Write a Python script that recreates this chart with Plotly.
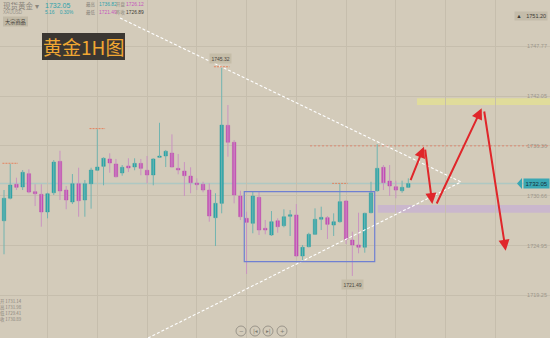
import plotly.graph_objects as go

# ---------------- data ----------------
opens = [1727.80, 1730.37, 1731.97, 1731.66, 1733.18, 1731.12, 1730.82, 1728.80, 1731.00, 1734.59,
         1731.31, 1729.94, 1732.03, 1730.17, 1732.03, 1733.57, 1734.02, 1734.86, 1734.29, 1733.26,
         1734.06, 1733.94, 1734.36, 1733.57, 1733.03, 1735.05, 1735.20, 1735.54, 1733.79, 1733.48,
         1732.91, 1732.11, 1731.97, 1731.31, 1728.15, 1729.79, 1738.71, 1736.77, 1730.63, 1728.08,
         1727.51, 1730.48, 1726.94, 1726.17, 1727.80, 1727.23, 1728.31, 1728.46, 1723.77, 1724.83,
         1726.25, 1727.97, 1728.15, 1727.31, 1727.69, 1730.06, 1725.60, 1725.03, 1724.77, 1728.72,
         1731.23, 1733.91, 1732.34, 1731.69, 1731.23, 1731.62]
highs = [1731.31, 1734.29, 1732.72, 1733.60, 1733.68, 1731.98, 1731.97, 1731.00, 1734.74, 1735.80,
         1731.77, 1733.14, 1733.86, 1732.46, 1733.86, 1738.25, 1735.05, 1735.51, 1734.86, 1734.17,
         1734.94, 1734.94, 1734.86, 1735.20, 1734.94, 1739.00, 1735.89, 1737.68, 1735.43, 1734.51,
         1733.91, 1732.65, 1732.26, 1732.08, 1730.94, 1745.32, 1741.03, 1737.03, 1731.23, 1728.83,
         1731.12, 1731.12, 1727.89, 1728.91, 1728.08, 1729.11, 1729.03, 1729.71, 1725.03, 1726.43,
         1729.22, 1729.41, 1728.34, 1728.65, 1731.99, 1730.17, 1726.55, 1728.72, 1728.72, 1732.26,
         1736.54, 1734.17, 1734.17, 1732.38, 1732.38, 1732.65]
lows = [1723.97, 1730.25, 1731.31, 1731.31, 1730.94, 1729.48, 1727.12, 1728.08, 1730.74, 1730.17,
        1729.11, 1729.71, 1728.26, 1728.26, 1729.18, 1733.50, 1731.85, 1733.29, 1732.75, 1732.95,
        1733.37, 1733.57, 1733.00, 1732.08, 1731.85, 1735.00, 1733.94, 1733.90, 1733.11, 1730.63,
        1730.94, 1731.31, 1731.05, 1727.69, 1724.91, 1728.65, 1735.12, 1729.79, 1727.88, 1721.72,
        1726.37, 1726.17, 1726.25, 1726.06, 1726.43, 1727.05, 1726.06, 1723.69, 1723.23, 1724.77,
        1726.17, 1726.74, 1725.72, 1726.06, 1727.58, 1725.14, 1721.49, 1724.08, 1724.15, 1728.65,
        1731.12, 1731.31, 1730.63, 1730.37, 1731.00, 1731.55]
closes = [1730.37, 1731.89, 1731.62, 1733.34, 1731.08, 1730.89, 1728.80, 1730.89, 1734.51, 1731.20,
          1730.17, 1732.03, 1730.09, 1732.03, 1733.60, 1733.94, 1734.94, 1734.40, 1732.83, 1733.91,
          1733.83, 1734.36, 1733.79, 1733.03, 1734.86, 1735.20, 1735.74, 1733.94, 1733.60, 1732.95,
          1732.15, 1731.92, 1731.31, 1728.34, 1729.79, 1738.74, 1736.77, 1730.74, 1728.26, 1727.62,
          1730.63, 1726.74, 1726.74, 1727.69, 1727.12, 1728.26, 1728.49, 1723.77, 1724.77, 1726.25,
          1727.97, 1728.19, 1727.39, 1727.69, 1729.98, 1725.68, 1725.03, 1724.77, 1728.65, 1731.00,
          1733.79, 1732.15, 1731.77, 1731.31, 1731.62, 1732.05]

axis_ticks = [1747.77, 1742.05, 1736.36, 1730.66, 1724.95, 1719.25]
axis_labels = ["1747.77", "1742.05", "1736.36", "1730.66", "1724.95", "1719.25"]
grid_x = [7, 15, 23, 31, 39, 47, 55, 63, 71, 79]

last_price = 1732.05
top_label = 1751.20
high_mark_idx = [1, 15, 35, 54]          # candles with dashed high markers
resistance = 1736.36
resistance_start = 49.2

# triangle (index, price)
tri_upper_x = [18.65, 73.47]
tri_upper_y = [1750.97, 1732.23]
tri_lower_x = [23.15, 73.47]
tri_lower_y = [1714.40, 1732.23]

# consolidation box
box_x = [38.63, 59.6]
box_y = [1723.12, 1731.12]

# zones
yellow_zone = [66.4, 1741.03, 1741.79]
purple_zone = [60.1, 1728.72, 1729.60]

# projected path arrows: (start_x, start_y, end_x, end_y)
arrows = [
    (65.27, 1732.26, 67.52, 1736.26),
    (67.68, 1736.11, 68.86, 1729.71),
    (69.45, 1729.60, 76.80, 1740.65),
    (77.17, 1740.46, 80.66, 1724.38),
]

header_vals = {"price": "1732.05", "chg": "5.16", "pct": "0.30%", "high": "1736.82",
               "open": "1726.12", "low": "1721.49", "prev": "1726.89"}
ohlc_legend = ["1731.14", "1731.98", "1729.41", "1730.89"]
ohlc_prefix = ["开", "高", "低", "收"]

# ---------------- styling ----------------
W, H = 550, 338
BG = "#d3cbba"
TEAL = "#2ea7ab"
TEAL_W = "#72b4b0"
MAG = "#c64fb8"
MAG_W = "#c993c1"
CJK = "Noto Sans CJK SC"
NUM = "Liberation Sans Narrow, Liberation Sans"

def px(x):
    return x / W

def py(y):
    return 1 - y / H

fig = go.Figure()

n = len(opens)
idx = list(range(n))
up = [closes[i] >= opens[i] for i in idx]

shapes = []
shapes.append(dict(type="rect", xref="x", yref="y", x0=yellow_zone[0], x1=90,
                   y0=yellow_zone[1], y1=yellow_zone[2], fillcolor="rgba(228,224,148,0.8)",
                   line=dict(width=0), layer="below"))
shapes.append(dict(type="rect", xref="x", yref="y", x0=purple_zone[0], x1=90,
                   y0=purple_zone[1], y1=purple_zone[2], fillcolor="rgba(200,180,208,0.85)",
                   line=dict(width=0), layer="below"))
shapes.append(dict(type="line", xref="x", yref="y", x0=-1, x1=90, y0=last_price, y1=last_price,
                   line=dict(color="rgba(170,200,196,0.9)", width=1.5), layer="below"))

# wicks
for flag, col in [(True, TEAL_W), (False, MAG_W)]:
    wx, wy = [], []
    for i in idx:
        if up[i] == flag:
            wx += [i, i, None]
            wy += [lows[i], highs[i], None]
    fig.add_trace(go.Scatter(x=wx, y=wy, mode="lines", line=dict(color=col, width=1),
                             hoverinfo="skip", showlegend=False))

# bodies
for flag, col, edge in [(True, TEAL, "#26979b"), (False, MAG, "#b545a8")]:
    bx, bb, bh = [], [], []
    for i in idx:
        if up[i] == flag:
            lo = min(opens[i], closes[i])
            hgt = max(abs(closes[i] - opens[i]), 0.15)
            bx.append(i)
            bb.append(lo)
            bh.append(hgt)
    fig.add_trace(go.Bar(x=bx, y=bh, base=bb, width=0.56,
                         marker=dict(color=col, line=dict(color=edge, width=0.4)),
                         hoverinfo="skip", showlegend=False))

for i in high_mark_idx:
    shapes.append(dict(type="line", xref="x", yref="y", x0=i - 1.25, x1=i + 1.25,
                       y0=highs[i] + 0.08, y1=highs[i] + 0.08,
                       line=dict(color="#e4825e", width=1, dash="2px,1px")))

shapes.append(dict(type="line", xref="x", yref="y", x0=resistance_start, x1=90,
                   y0=resistance, y1=resistance, line=dict(color="#e07a62", width=0.8, dash="2px,2px")))

for tx, ty in [(tri_upper_x, tri_upper_y), (tri_lower_x, tri_lower_y)]:
    fig.add_trace(go.Scatter(x=tx, y=ty, mode="lines",
                             line=dict(color="white", width=1.1, dash="3px,2px"),
                             hoverinfo="skip", showlegend=False))

shapes.append(dict(type="rect", xref="x", yref="y", x0=box_x[0], x1=box_x[1], y0=box_y[0], y1=box_y[1],
                   line=dict(color="#6f80d2", width=1.2), fillcolor="rgba(0,0,0,0)"))

shapes.append(dict(type="rect", xref="paper", yref="paper", x0=px(42), x1=px(125), y0=py(60), y1=py(33),
                   fillcolor="#3b3732", line=dict(width=0)))
shapes.append(dict(type="rect", xref="paper", yref="paper", x0=px(3), x1=px(28), y0=py(26.5), y1=py(16.5),
                   fillcolor="#c1b9a6", line=dict(width=0)))
for cx in [241, 255, 268, 282]:
    shapes.append(dict(type="circle", xref="paper", yref="paper", x0=px(cx - 5), x1=px(cx + 5),
                       y0=py(336), y1=py(326), line=dict(color="#8c877d", width=0.8)))
shapes.append(dict(type="path", xref="paper", yref="paper",
                   path=f"M {px(517)} {py(183.5)} L {px(522)} {py(178)} L {px(522)} {py(189)} Z",
                   fillcolor="#3aa7b3", line=dict(width=0)))

ann = []
for sx, sy, ex, ey in arrows:
    ann.append(dict(x=ex, y=ey, ax=sx, ay=sy, xref="x", yref="y", axref="x", ayref="y",
                    text="", showarrow=True, arrowhead=2, arrowsize=1.1, arrowwidth=2,
                    arrowcolor="#e0262a", standoff=0, startstandoff=0))

def text(x, y, s, size, color, anchor="left", font=CJK, **kw):
    d = dict(x=px(x), y=py(y), xref="paper", yref="paper", text=s, showarrow=False,
             xanchor=anchor, yanchor="middle", font=dict(size=size, color=color, family=font))
    d.update(kw)
    ann.append(d)

text(1, 6, "现货黄金 ▾", 7.5, "#8a857c")
text(1, 12.8, "XAUUSD", 4.6, "#9a958c", font=NUM)
text(43, 6, header_vals["price"], 7, "#2fa2ac", font="Liberation Sans")
text(43, 12.8, header_vals["chg"] + "    " + header_vals["pct"], 4.8, "#2fa2ac", font=NUM)
text(83.5, 5, "最高", 4.4, "#8a857c")
text(97, 5, header_vals["high"], 4.9, "#2fa2ac", font=NUM)
text(114, 5, "开盘", 4.4, "#8a857c")
text(124, 5, header_vals["open"], 4.9, "#c555bd", font=NUM)
text(83.5, 13, "最低", 4.4, "#8a857c")
text(97, 13, header_vals["low"], 4.9, "#c555bd", font=NUM)
text(114, 13, "昨收", 4.4, "#8a857c")
text(124, 13, header_vals["prev"], 4.9, "#3d3a35", font=NUM)
text(15.5, 21.5, "大宗商品", 5.2, "#3d3a35", anchor="center")
text(83.5, 46.5, "黄金1H图", 19, "#f0a733", anchor="center")

hi_i = highs.index(max(highs))
lo_i = lows.index(min(lows))
ann.append(dict(x=hi_i, y=highs[hi_i], xref="x", yref="y", yshift=9, xshift=-1, text=f"{highs[hi_i]:.2f}",
                showarrow=False, bgcolor="#c5bda8", borderpad=1.5,
                font=dict(size=5, color="#4a463f", family=NUM)))
ann.append(dict(x=lo_i, y=lows[lo_i], xref="x", yref="y", yshift=-9, text=f"{lows[lo_i]:.2f}",
                showarrow=False, bgcolor="#c5bda8", borderpad=1.5,
                font=dict(size=5, color="#4a463f", family=NUM)))

ann.append(dict(x=1, y=top_label, xref="paper", yref="y", xanchor="right", xshift=-2,
                text="▲   " + f"{top_label:.2f}", showarrow=False, bgcolor="#c4bcaa", borderpad=1.2,
                font=dict(size=5.5, color="#3d3a35", family=NUM)))
ann.append(dict(x=1, y=last_price, xref="paper", yref="y", xanchor="right",
                text=f"{last_price:.2f}", showarrow=False, bgcolor="#3aa7b3", borderpad=1.5,
                font=dict(size=6, color="#15303a", family=NUM)))

for k, (pf, v) in enumerate(zip(ohlc_prefix, ohlc_legend)):
    text(-2.5, 301.7 + k * 6, pf + " " + v, 4.4, "#8a857c")

for cx, g in zip([241, 255, 268, 282], ["−", "|◂", "▸|", "+"]):
    text(cx, 331, g, 5.5, "#7d786e", anchor="center", font="DejaVu Sans")

fig.update_layout(
    width=W, height=H, margin=dict(l=0, r=0, t=0, b=0),
    paper_bgcolor=BG, plot_bgcolor=BG, barmode="overlay", showlegend=False,
    shapes=shapes, annotations=ann,
    xaxis=dict(range=[-0.643, 87.78], showticklabels=False, tickvals=grid_x,
               showgrid=True, gridcolor="#c6bead", gridwidth=1, zeroline=False, fixedrange=True),
    yaxis=dict(range=[1714.40, 1753.03], side="right", ticklabelposition="inside",
               tickvals=axis_ticks, ticktext=axis_labels, showgrid=True, gridcolor="#c6bead",
               gridwidth=1, zeroline=False, ticks="",
               tickfont=dict(size=5.5, color="#9c968a", family="Liberation Sans")),
)

fig.write_html("out.html")
